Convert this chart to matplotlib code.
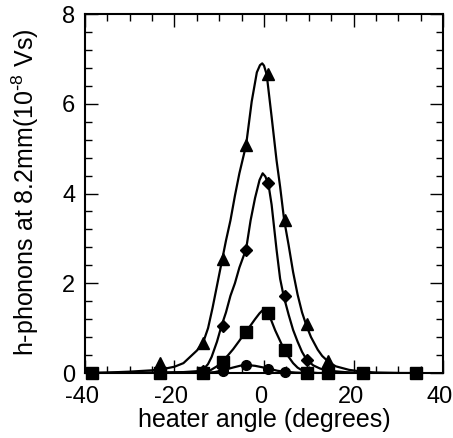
import matplotlib
matplotlib.use("Agg")
import matplotlib.pyplot as plt
import matplotlib.transforms as mtransforms
from matplotlib.ticker import MultipleLocator

plt.rcParams['font.family'] = ['Liberation Sans', 'DejaVu Sans']
plt.rcParams['axes.unicode_minus'] = False

# ---- measured data points ----
tri_x = [-23.2, -13.6, -9.2, -4.0, 1.0, 4.6, 9.5, 14.4]
tri_y = [0.22, 0.66, 2.55, 5.08, 6.67, 3.41, 1.09, 0.27]

dia_x = [-13.6, -9.2, -4.0, 1.0, 4.6, 9.5, 14.4]
dia_y = [0.05, 1.05, 2.75, 4.24, 1.71, 0.30, 0.05]

sq_x = [-38.5, -23.2, -13.6, -9.2, -4.0, 1.0, 4.6, 9.5, 14.4, 22.2, 34.0]
sq_y = [0.0, 0.0, 0.0, 0.25, 0.92, 1.33, 0.51, 0.0, 0.0, 0.0, 0.0]

cir_x = [-9.2, -4.0, 1.0, 4.6]
cir_y = [0.05, 0.18, 0.10, 0.03]

# ---- curves ----
tri_cx = [-38.5, -35, -30, -25, -22, -20, -18, -16.5, -15, -13.6, -12.5, -11.5, -10.5,
          -9.5, -8.5, -7.5, -6.5, -5.5, -4.0, -2.75, -1.6, -0.9, -0.4, 0.0, 0.6, 1.7,
          2.8, 3.6, 4.5, 5.5, 6.5, 7.5, 8.5, 9.5, 10.5, 12, 13, 14.4, 16, 19, 22, 25, 30]
tri_cy = [0.0, 0.01, 0.03, 0.06, 0.10, 0.14, 0.22, 0.36, 0.50, 0.68, 1.00, 1.45, 1.95,
          2.45, 2.95, 3.40, 3.95, 4.45, 5.08, 6.05, 6.70, 6.86, 6.90, 6.85, 6.65, 5.71,
          4.74, 4.15, 3.41, 2.85, 2.25, 1.75, 1.35, 1.05, 0.80, 0.52, 0.38, 0.25, 0.15,
          0.07, 0.03, 0.01, 0.0]

dia_cx = [-38.5, -25, -18, -15, -13.6, -12.5, -11.7, -10.5, -9.5, -8.5, -7.5, -6.5,
          -5.5, -4.0, -3.0, -2.0, -1.0, -0.3, 0.3, 1.0, 1.7, 2.8, 3.6, 4.4, 5.5, 6.5,
          7.5, 8.5, 9.5, 11, 12.5, 14.5, 18, 22]
dia_cy = [0.0, 0.01, 0.02, 0.04, 0.07, 0.20, 0.36, 0.70, 1.05, 1.35, 1.72, 2.00,
          2.35, 2.76, 3.40, 3.90, 4.30, 4.45, 4.38, 4.20, 3.75, 2.75, 2.10, 1.71, 1.30,
          0.96, 0.70, 0.47, 0.30, 0.17, 0.10, 0.05, 0.02, 0.0]

sq_cx = [-38.5, -23.2, -15, -13.6, -12, -10.5, -9.2, -8, -6.9, -5.5, -4.0, -3.0, -2.0,
         -1.0, -0.2, 0.5, 1.0, 2.5, 4.5, 5.5, 6.5, 7.5, 8.5, 9.5, 12, 34]
sq_cy = [0.0, 0.0, 0.01, 0.02, 0.06, 0.15, 0.27, 0.40, 0.53, 0.72, 0.93, 1.06, 1.20,
         1.33, 1.41, 1.38, 1.33, 0.95, 0.52, 0.36, 0.22, 0.12, 0.06, 0.02, 0.0, 0.0]

cir_cx = [-13.6, -11, -9.2, -7, -5, -4, -2, 0, 1, 3, 4.5, 7, 9.5]
cir_cy = [0.0, 0.02, 0.06, 0.12, 0.17, 0.18, 0.16, 0.12, 0.10, 0.05, 0.03, 0.01, 0.0]

x_ticks = [-40, -20, 0, 20, 40]
y_ticks = [0, 2, 4, 6, 8]

fig = plt.figure(figsize=(4.53, 4.38), dpi=100)
ax = fig.add_axes([0.1876, 0.1484, 0.7904, 0.8196])

lw = 1.6
ax.plot(tri_cx, tri_cy, color='black', lw=lw, zorder=2)
ax.plot(dia_cx, dia_cy, color='black', lw=lw, zorder=2)
ax.plot(sq_cx, sq_cy, color='black', lw=lw, zorder=2)
ax.plot(cir_cx, cir_cy, color='black', lw=lw, zorder=2)

ax.plot(tri_x, tri_y, linestyle='none', marker='^', ms=9, color='black', zorder=3, clip_on=False)
ax.plot(dia_x, dia_y, linestyle='none', marker='D', ms=6, color='black', zorder=3, clip_on=False)
ax.plot(cir_x, cir_y, linestyle='none', marker='o', ms=7, color='black', zorder=3, clip_on=False)
ax.plot(sq_x, sq_y, linestyle='none', marker='s', ms=8, color='black', zorder=4, clip_on=False)

ax.set_xlim(-40, 40)
ax.set_ylim(0, 8)
ax.set_xticks(x_ticks)
ax.set_yticks(y_ticks)
ax.set_xticklabels([str(v) for v in x_ticks])
ax.set_yticklabels([str(v) for v in y_ticks])
ax.xaxis.set_minor_locator(MultipleLocator(5))
ax.yaxis.set_minor_locator(MultipleLocator(0.4))
ax.tick_params(which='both', direction='in', top=True, right=True, width=1.0, labelsize=17, color='black')
ax.tick_params(which='major', length=9.5)
ax.tick_params(which='minor', length=5)
ax.tick_params(axis='x', which='major', pad=9)
ax.tick_params(axis='y', which='major', pad=7)
for s in ax.spines.values():
    s.set_linewidth(1.5)

# nudge x tick labels slightly left, as in the reference
offset = mtransforms.ScaledTranslation(-3 / 100, 0, fig.dpi_scale_trans)
for lab in ax.get_xticklabels():
    lab.set_transform(lab.get_transform() + offset)

ax.set_xlabel('heater angle (degrees)', fontsize=18)
ax.set_ylabel('h-phonons at 8.2mm(10$^{\\mathregular{\\text{-}8}}$ Vs)', fontsize=18)
ax.xaxis.set_label_coords(0.5, -0.0975)
ax.xaxis.label.set_va('top')
ax.yaxis.set_label_coords(-0.123, 0.503)

fig.savefig('out.png', dpi=100)
